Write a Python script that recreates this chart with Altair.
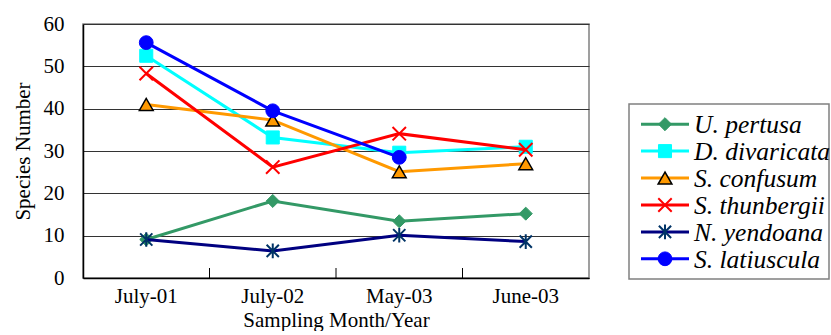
import altair as alt
import pandas as pd

months = ["July-01", "July-02", "May-03", "June-03"]
species = ["U. pertusa", "D. divaricata", "S. confusum", "S. thunbergii",
           "N. yendoana", "S. latiuscula"]
u_pertusa = [9.1, 18.2, 13.4, 15.2]
d_divaricata = [52.5, 33.2, 29.6, 31.0]
s_confusum = [41.0, 37.3, 25.1, 27.0]
s_thunbergii = [48.3, 26.2, 34.1, 30.3]
n_yendoana = [9.1, 6.4, 10.1, 8.6]
s_latiuscula = [55.6, 39.5, 28.5, None]
series_values = [u_pertusa, d_divaricata, s_confusum, s_thunbergii, n_yendoana, s_latiuscula]
y_ticks = [0, 10, 20, 30, 40, 50, 60]

# styles
line_colors = ["#339966", "#00FFFF", "#FF9900", "#FF0000", "#000080", "#0000FF"]
X_PATH = "M-1,-1L1,1M-1,1L1,-1"
STAR_PATH = "M-1,-1L1,1M-1,1L1,-1M0,-1.2L0,1.2"
marker_style = [
    dict(shape="diamond", size=170, fill="#339966", stroke="#339966", strokeWidth=1),
    dict(shape="square", size=170, fill="#00FFFF", stroke="#00FFFF", strokeWidth=1),
    dict(shape="triangle-up", size=190, fill="#FF9900", stroke="#000000", strokeWidth=1.5),
    dict(shape=X_PATH, size=180, fill="none", stroke="#FF0000", strokeWidth=2),
    dict(shape=STAR_PATH, size=150, fill="none", stroke="#003366", strokeWidth=2),
    dict(shape="circle", size=190, fill="#0000FF", stroke="#0000FF", strokeWidth=1),
]

FONT = "Times New Roman, Liberation Serif, serif"
PLOT_W, PLOT_H = 506, 254

rows = []
for sp, vals in zip(species, series_values):
    for m, v in zip(months, vals):
        if v is not None:
            rows.append({"species": sp, "month": m, "value": v})
df = pd.DataFrame(rows)

x_scale = alt.Scale(type="band", domain=months, paddingInner=0, paddingOuter=0)
x_axis = alt.Axis(title="Sampling Month/Year", ticks=False, grid=False,
                  domainColor="black", domainWidth=1.5,
                  labelFont=FONT, labelFontSize=21, labelColor="black",
                  labelPadding=7, labelAngle=0,
                  titleFont=FONT, titleFontSize=21, titleFontWeight="normal",
                  titleColor="black", titlePadding=3)
y_scale = alt.Scale(domain=[0, 60], nice=False, zero=True)
y_axis = alt.Axis(title="Species Number", values=y_ticks, ticks=False, tickSize=0,
                  grid=True, gridColor="#333333", gridWidth=1.2,
                  domainColor="black", domainWidth=1.5,
                  labelFont=FONT, labelFontSize=21, labelColor="black",
                  labelPadding=19,
                  titleFont=FONT, titleFontSize=21, titleFontWeight="normal",
                  titleColor="black", titlePadding=10)

X = alt.X("month:N", scale=x_scale, axis=x_axis)
Y = alt.Y("value:Q", scale=y_scale, axis=y_axis)

tick_df = pd.DataFrame({"month": months[1:]})
tick_layer = alt.Chart(tick_df).mark_rule(color="black", strokeWidth=1).encode(
    x=alt.X("month:N", scale=x_scale, axis=x_axis, bandPosition=0),
    y=alt.value(PLOT_H),
    y2=alt.value(PLOT_H - 10),
)

layers = [tick_layer]
for sp, col, ms in zip(species, line_colors, marker_style):
    sub = alt.Chart(df).transform_filter(alt.datum.species == sp)
    layers.append(sub.mark_line(color=col, strokeWidth=3).encode(x=X, y=Y))
    layers.append(sub.mark_point(opacity=1, **ms).encode(x=X, y=Y))

main = alt.layer(*layers).properties(width=PLOT_W, height=PLOT_H)

# legend panel
leg_df = pd.DataFrame({"species": species})
LEG_W, LEG_H = 200, 175
ly = alt.Y("species:N", sort=species, axis=None,
           scale=alt.Scale(type="point", domain=species, padding=0.75))
lx_scale = alt.Scale(domain=[0, 1], nice=False, zero=False)
leg_layers = []
for sp, col, ms in zip(species, line_colors, marker_style):
    sub = alt.Chart(leg_df).transform_filter(alt.datum.species == sp)
    leg_layers.append(sub.mark_rule(color=col, strokeWidth=3).encode(
        x=alt.XDatum(0.06, type="quantitative", scale=lx_scale, axis=None),
        x2=alt.X2Datum(0.30), y=ly))
    leg_layers.append(sub.mark_point(opacity=1, **ms).encode(
        x=alt.XDatum(0.18, type="quantitative", scale=lx_scale, axis=None), y=ly))
leg_layers.append(alt.Chart(leg_df).mark_text(
    align="left", baseline="middle", font=FONT, fontSize=25.5, fontStyle="italic",
    color="black", dy=1).encode(
    x=alt.XDatum(0.325, type="quantitative", scale=lx_scale, axis=None),
    y=ly, text="species:N"))
legend_box = alt.layer(*leg_layers).properties(width=LEG_W, height=LEG_H)

spacer = alt.Chart(leg_df).mark_text(text="", opacity=0).encode(
    x=alt.value(0), y=alt.value(0)
).properties(width=LEG_W, height=PLOT_H - LEG_H + 1,
             view=alt.ViewBackground(strokeOpacity=0))

right = alt.vconcat(spacer, legend_box, spacing=0, bounds="flush")

chart = alt.hconcat(main, right, spacing=40, bounds="flush").properties(
    padding={"left": 11, "top": 12, "right": 0, "bottom": 0}
).configure_view(stroke="#808080", strokeWidth=1.5)

chart.save("out.html", embed_options={"renderer": "svg", "actions": False})
